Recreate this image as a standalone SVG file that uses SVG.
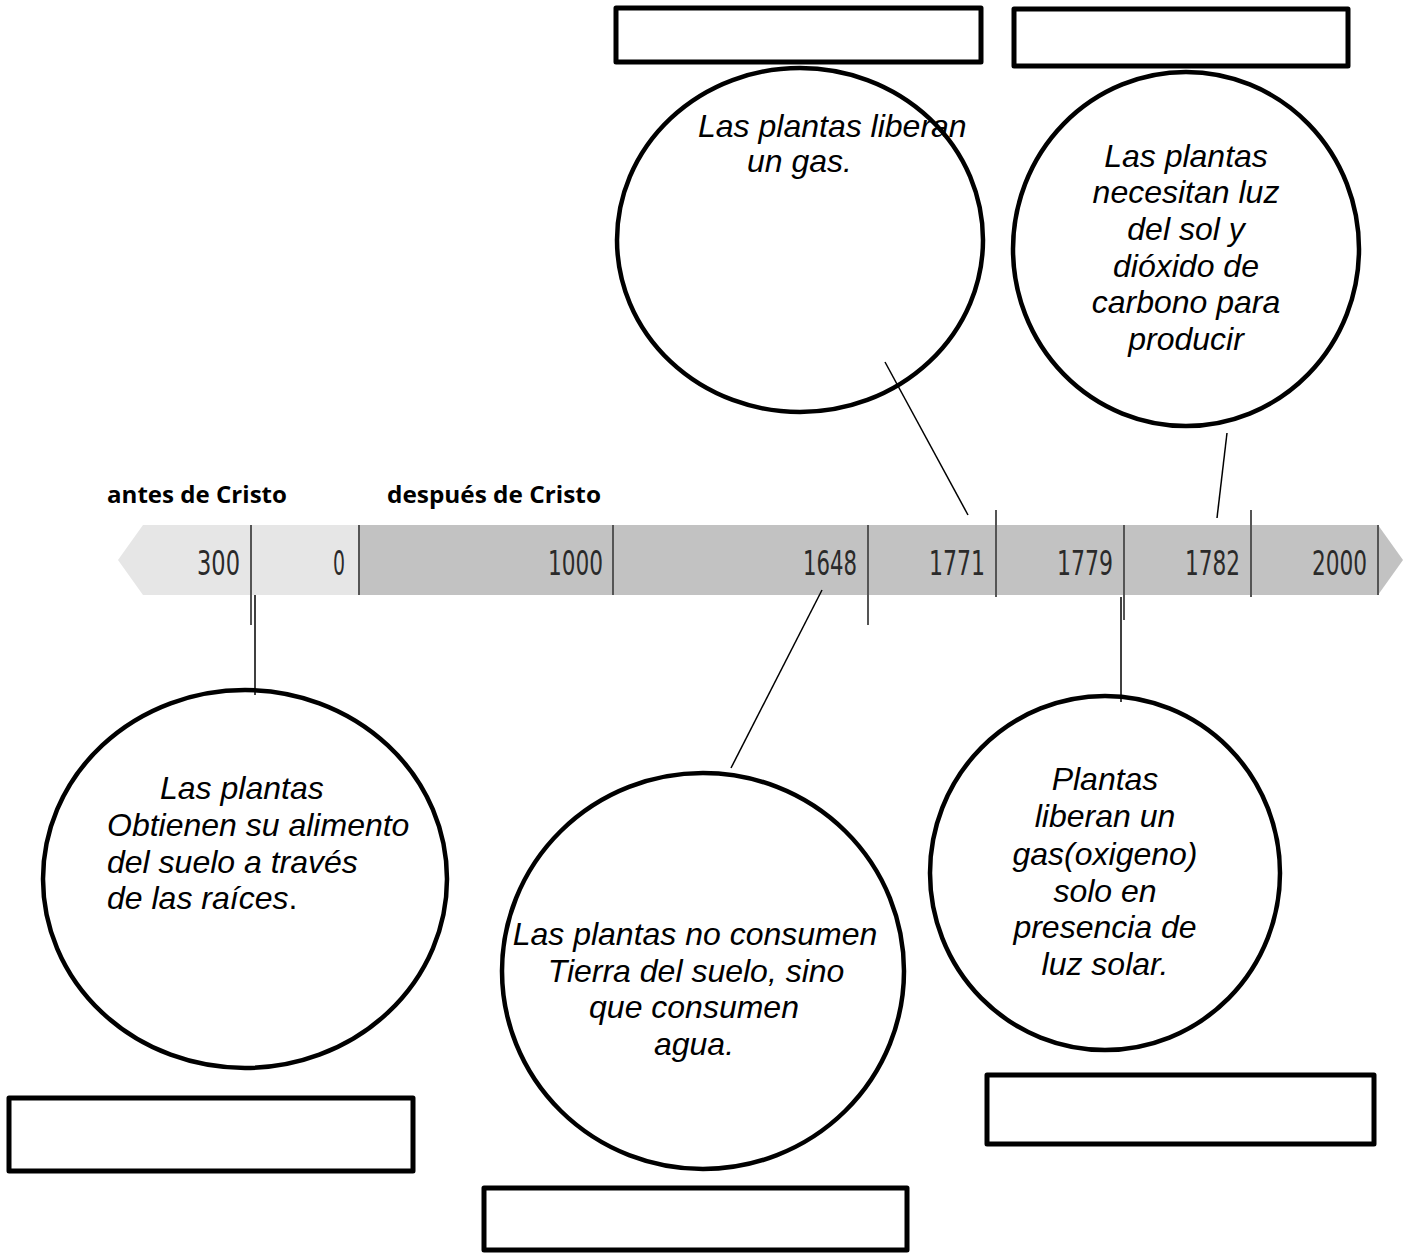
<svg xmlns="http://www.w3.org/2000/svg" width="1408" height="1253" viewBox="0 0 1408 1253">
<style>
.box{fill:#fff;stroke:#000;stroke-width:5;stroke-linejoin:round}
.bub{fill:none;stroke:#000;stroke-width:4.5}
.t{font-family:"Liberation Sans",Arial,sans-serif;font-style:italic;font-size:32px;fill:#000}
.c{text-anchor:middle}
.yr{font-family:"DejaVu Sans Condensed","Liberation Sans",sans-serif;font-size:34px;fill:#2a2a2a}
.hd{font-family:"Open Sans","Liberation Sans",Arial,sans-serif;font-weight:bold;font-size:23px;fill:#000}
.div{stroke:#555;stroke-width:2}
.con{stroke:#000;stroke-width:1.5;fill:none}
</style>
<rect width="1408" height="1253" fill="#fff"/>
<g id="timeline">
<polygon points="118,560 143,525 359,525 359,595 143,595" fill="#e6e6e6"/>
<polygon points="359,525 1378,525 1403,560 1378,595 359,595" fill="#c2c2c2"/>
<line class="div" x1="251" y1="525" x2="251" y2="625"/>
<line class="div" x1="359" y1="525" x2="359" y2="595"/>
<line class="div" x1="613" y1="525" x2="613" y2="595"/>
<line class="div" x1="868" y1="525" x2="868" y2="625"/>
<line class="div" x1="996" y1="510" x2="996" y2="597"/>
<line class="div" x1="1124" y1="525" x2="1124" y2="620"/>
<line class="div" x1="1251" y1="510" x2="1251" y2="597"/>
<line class="div" x1="1378" y1="525" x2="1378" y2="595"/>
<text class="yr" x="197" y="575" textLength="43" lengthAdjust="spacingAndGlyphs">300</text>
<text class="yr" x="333" y="575" textLength="12" lengthAdjust="spacingAndGlyphs">0</text>
<text class="yr" x="548" y="575" textLength="55" lengthAdjust="spacingAndGlyphs">1000</text>
<text class="yr" x="803" y="575" textLength="54" lengthAdjust="spacingAndGlyphs">1648</text>
<text class="yr" x="929" y="575" textLength="56" lengthAdjust="spacingAndGlyphs">1771</text>
<text class="yr" x="1057" y="575" textLength="56" lengthAdjust="spacingAndGlyphs">1779</text>
<text class="yr" x="1185" y="575" textLength="55" lengthAdjust="spacingAndGlyphs">1782</text>
<text class="yr" x="1312" y="575" textLength="55" lengthAdjust="spacingAndGlyphs">2000</text>
<text class="hd" x="107" y="503" textLength="180" lengthAdjust="spacingAndGlyphs">antes de Cristo</text>
<text class="hd" x="387" y="503" textLength="214" lengthAdjust="spacingAndGlyphs">después de Cristo</text>
</g>
<g id="connectors">
<line class="con" x1="255" y1="595" x2="255" y2="695"/>
<line class="con" x1="822" y1="590" x2="731" y2="768"/>
<line class="con" x1="885" y1="362" x2="968" y2="515"/>
<line class="con" x1="1121" y1="597" x2="1121" y2="702"/>
<line class="con" x1="1227" y1="433" x2="1217" y2="518"/>
</g>
<g id="box-top-1"><rect class="box" x="616" y="8" width="365" height="54"/></g>
<g id="box-top-2"><rect class="box" x="1014" y="9" width="334" height="57"/></g>
<g id="box-bottom-1"><rect class="box" x="9" y="1098" width="404" height="73"/></g>
<g id="box-bottom-2"><rect class="box" x="484" y="1188" width="423" height="62"/></g>
<g id="box-bottom-3"><rect class="box" x="987" y="1075" width="387" height="69"/></g>
<g id="circle-1771">
<ellipse class="bub" cx="800" cy="240" rx="183" ry="172"/>
<text class="t" x="698" y="137">Las plantas liberan</text>
<text class="t" x="747" y="172">un gas.</text>
</g>
<g id="circle-1782">
<ellipse class="bub" cx="1186" cy="249" rx="173" ry="177"/>
<text class="t c" x="1186" y="167">Las plantas</text>
<text class="t c" x="1186" y="203">necesitan luz</text>
<text class="t c" x="1186" y="240">del sol y</text>
<text class="t c" x="1186" y="277">dióxido de</text>
<text class="t c" x="1186" y="313">carbono para</text>
<text class="t c" x="1186" y="350">producir</text>
</g>
<g id="circle-300">
<ellipse class="bub" cx="245" cy="879" rx="202" ry="189"/>
<text class="t" x="160" y="799">Las plantas</text>
<text class="t" x="107" y="836">Obtienen su alimento</text>
<text class="t" x="107" y="873">del suelo a través</text>
<text class="t" x="107" y="909">de las raíces<tspan font-style="normal">.</tspan></text>
</g>
<g id="circle-1648">
<ellipse class="bub" cx="703" cy="971" rx="201" ry="198"/>
<text class="t c" x="695" y="945">Las plantas no consumen</text>
<text class="t c" x="696" y="982">Tierra del suelo, sino</text>
<text class="t c" x="694" y="1018">que consumen</text>
<text class="t c" x="694" y="1055">agua.</text>
</g>
<g id="circle-1779">
<ellipse class="bub" cx="1105" cy="873" rx="175" ry="177"/>
<text class="t c" x="1105" y="790">Plantas</text>
<text class="t c" x="1105" y="827">liberan un</text>
<text class="t c" x="1105" y="865">gas(oxigeno)</text>
<text class="t c" x="1105" y="902">solo en</text>
<text class="t c" x="1105" y="938">presencia de</text>
<text class="t c" x="1105" y="975">luz solar.</text>
</g>
</svg>
